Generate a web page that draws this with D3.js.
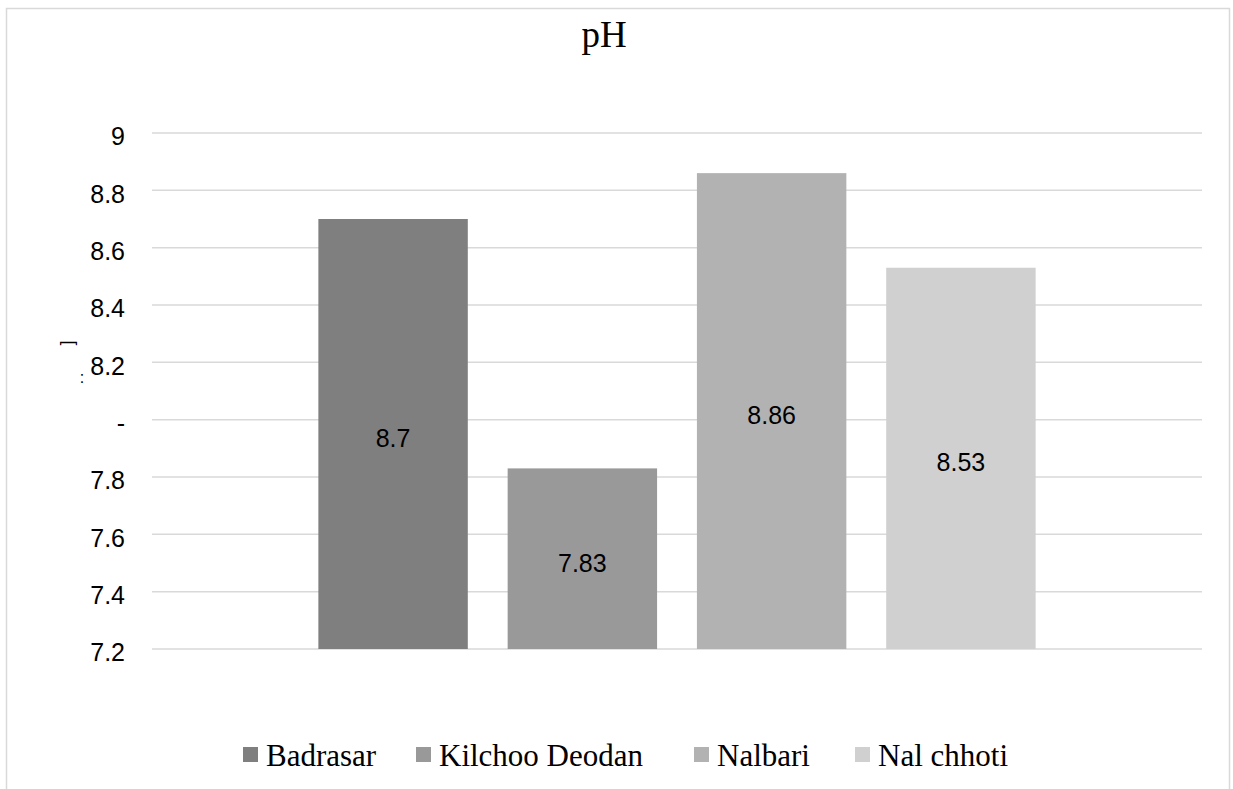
<!DOCTYPE html>
<html><head><meta charset="utf-8">
<script src="https://cdn.jsdelivr.net/npm/d3@7"></script>
<style>body{margin:0;background:#fff}svg{display:block}</style>
</head><body>
<script>
const title = "pH";
const series = ["Badrasar", "Kilchoo Deodan", "Nalbari", "Nal chhoti"];
const values = [8.7, 7.83, 8.86, 8.53];
const valueLabels = ["8.7", "7.83", "8.86", "8.53"];
const colors = ["#7f7f7f", "#999999", "#b2b2b2", "#d0d0d0"];
const tickValues = [7.2, 7.4, 7.6, 7.8, 8.0, 8.2, 8.4, 8.6, 8.8, 9.0];
const tickLabels = ["7.2", "7.4", "7.6", "7.8", "-", "8.2", "8.4", "8.6", "8.8", "9"];

const W = 1233, H = 789;
const svg = d3.select("body").append("svg").attr("width", W).attr("height", H);

// chart border
svg.append("rect").attr("x", 6.5).attr("y", 8.5).attr("width", 1223).attr("height", 800)
  .attr("fill", "#fff").attr("stroke", "#d9d9d9").attr("stroke-width", 1.5);

const plotL = 152, plotR = 1202;
const y = d3.scaleLinear().domain([7.2, 9]).range([649, 133]);
const x = d3.scaleBand().domain(series).range([plotL, plotR]).paddingInner(40/190).paddingOuter(0.879);

// gridlines
svg.append("g").selectAll("line").data(tickValues).join("line")
  .attr("x1", plotL).attr("x2", plotR)
  .attr("y1", d => y(d)).attr("y2", d => y(d))
  .attr("stroke", "#d9d9d9").attr("stroke-width", 1.5);

// y axis labels via d3 axis
const yAxis = d3.axisLeft(y).tickValues(tickValues).tickSize(0).tickPadding(0)
  .tickFormat((d, i) => tickLabels[i]);
const ga = svg.append("g").attr("transform", `translate(125,0)`).call(yAxis);
ga.select(".domain").remove();
ga.selectAll("text").attr("font-family", "Arial, 'Liberation Sans', sans-serif")
  .attr("font-size", 25).attr("fill", "#000").attr("dy", "0.47em");

// clipped remnants of the axis title, as in the reference
svg.append("text").attr("transform", "translate(74,343) rotate(-90)")
  .attr("font-family", "Arial, 'Liberation Sans', sans-serif").attr("font-size", 18)
  .attr("text-anchor", "middle").attr("dy", "-0.05em").attr("fill", "#000").text("]");
svg.append("text").attr("x", 82).attr("y", 383).attr("text-anchor", "middle")
  .attr("font-family", "Arial, 'Liberation Sans', sans-serif").attr("font-size", 16)
  .attr("fill", "#000").text(":");

// bars
svg.append("g").selectAll("rect").data(series).join("rect")
  .attr("x", d => x(d)).attr("width", x.bandwidth())
  .attr("y", (d, i) => y(values[i])).attr("height", (d, i) => y(7.2) - y(values[i]))
  .attr("fill", (d, i) => colors[i]);

// value labels
svg.append("g").selectAll("text").data(series).join("text")
  .attr("x", d => x(d) + x.bandwidth() / 2)
  .attr("y", (d, i) => (y(values[i]) + y(7.2)) / 2)
  .attr("dy", "0.52em").attr("text-anchor", "middle")
  .attr("font-family", "Arial, 'Liberation Sans', sans-serif").attr("font-size", 25)
  .attr("fill", "#000").text((d, i) => valueLabels[i]);

// title
svg.append("text").attr("x", 604).attr("y", 47).attr("text-anchor", "middle")
  .attr("font-family", "'Liberation Serif', 'Times New Roman', serif").attr("font-size", 37)
  .attr("fill", "#000").text(title);

// legend
const legX = [243, 416, 694, 855];
const lg = svg.append("g").selectAll("g").data(series).join("g")
  .attr("transform", (d, i) => `translate(${legX[i]},755)`);
lg.append("rect").attr("x", 0).attr("y", -8).attr("width", 15).attr("height", 15)
  .attr("fill", (d, i) => colors[i]);
lg.append("text").attr("x", 23).attr("y", 11)
  .attr("font-family", "'Liberation Serif', 'Times New Roman', serif").attr("font-size", 31)
  .attr("fill", "#000").text(d => d);
</script>
</body></html>
